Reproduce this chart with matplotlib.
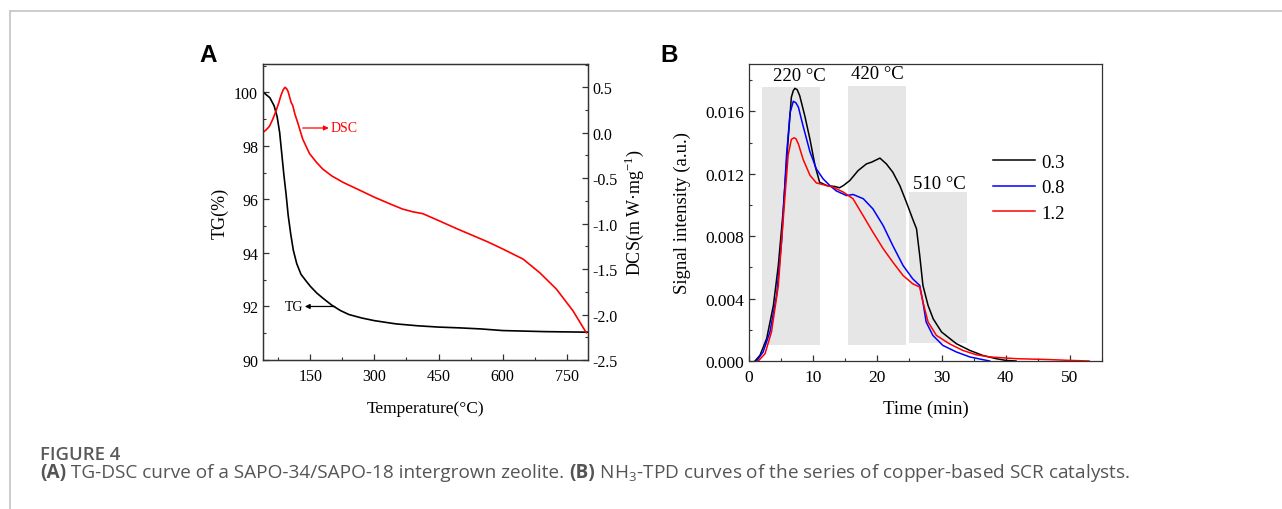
import matplotlib
matplotlib.use("Agg")
import matplotlib.pyplot as plt
from matplotlib.ticker import MultipleLocator
from matplotlib.patches import Rectangle

# ---- panel A: TG-DSC ----
tg_temp = [40, 55, 65, 72, 78, 83, 88, 93, 98, 104, 110, 118, 128, 140, 150, 165,
           180, 200, 220, 240, 270, 300, 350, 400, 450, 500, 550, 600, 650, 700,
           750, 800]
tg_val = [100, 99.8, 99.5, 99.1, 98.5, 97.7, 96.9, 96.2, 95.4, 94.7, 94.1, 93.6,
          93.2, 92.95, 92.75, 92.5, 92.3, 92.05, 91.85, 91.7, 91.57, 91.47, 91.35,
          91.28, 91.23, 91.2, 91.16, 91.1, 91.08, 91.06, 91.05, 91.04]

dsc_temp = [38, 46, 54, 62, 69.5, 76, 81, 86, 90.6, 95, 98, 104.7, 108.6, 114, 120,
            132, 148, 165, 179, 200, 226, 260, 300, 340, 366, 390, 413, 452, 490,
            530, 565, 601, 648, 687, 726, 765, 796]
dsc_val = [0.0, 0.03, 0.07, 0.15, 0.24, 0.33, 0.41, 0.47, 0.5, 0.48, 0.45, 0.335,
           0.30, 0.2, 0.115, -0.07, -0.23, -0.33, -0.40, -0.475, -0.545, -0.62,
           -0.71, -0.79, -0.84, -0.87, -0.89, -0.97, -1.05, -1.13, -1.2, -1.28,
           -1.39, -1.54, -1.72, -1.96, -2.2]

# ---- panel B: NH3-TPD ----
t_03 = [0.93, 1.7, 2.75, 3.8, 4.56, 5.3, 6.1, 6.6, 6.9, 7.15, 7.5, 7.9, 8.7, 9.5,
        10.3, 11.0, 12.1, 13.4, 14.1, 14.7, 15.7, 17.0, 18.3, 19.1, 20.4, 21.4, 22.4,
        23.5, 24.5, 25.5, 26.1, 26.6, 27.1, 27.9, 28.7, 30.0, 32.3, 34.4, 36.4, 38.5,
        40.0, 41.6]
s_03 = [0.0, 0.00036, 0.00143, 0.00356, 0.0061, 0.0095, 0.0142, 0.0169, 0.01732,
        0.01747, 0.01739, 0.0170, 0.0157, 0.0142, 0.0125, 0.01146, 0.01124, 0.01118,
        0.0111, 0.01124, 0.01156, 0.0122, 0.01263, 0.01274, 0.0130, 0.01263, 0.0121,
        0.01124, 0.0102, 0.0091, 0.00847, 0.00676, 0.00484, 0.00356, 0.0027, 0.00186,
        0.00111, 0.00068, 0.00036, 0.00015, 0.00004, 0.0]

t_08 = [1.2, 2.2, 3.26, 4.3, 5.1, 5.85, 6.4, 6.9, 7.3, 7.7, 8.4, 9.5, 10.5, 11.55,
        12.6, 13.6, 15.2, 16.2, 17.8, 19.3, 20.9, 22.4, 24.0, 25.5, 26.6, 27.1, 27.6,
        28.65, 30.2, 32.3, 34.4, 36.4, 37.5]
s_08 = [0.0, 0.00058, 0.00186, 0.0042, 0.0078, 0.0132, 0.0159, 0.01664, 0.01655,
        0.01626, 0.0151, 0.0134, 0.0123, 0.01167, 0.01124, 0.0109, 0.0106, 0.01067,
        0.0104, 0.00975, 0.00868, 0.0074, 0.00612, 0.00527, 0.00484, 0.00378, 0.0025,
        0.00164, 0.001, 0.00058, 0.00026, 0.00009, 0.0]

t_12 = [1.45, 2.5, 3.5, 4.56, 5.3, 6.1, 6.6, 7.0, 7.3, 7.7, 8.45, 9.5, 10.5, 11.55,
        13.1, 14.7, 16.2, 17.8, 19.3, 20.9, 22.4, 24.0, 25.5, 26.6, 27.1, 27.9, 29.2,
        31.2, 33.3, 35.4, 37.5, 41.6, 46.8, 49.9, 53.0]
s_12 = [0.0, 0.00047, 0.00186, 0.0048, 0.0089, 0.0132, 0.0142, 0.0143, 0.01425,
        0.0139, 0.0129, 0.0119, 0.01141, 0.0113, 0.01114, 0.01082, 0.0104, 0.0093,
        0.00826, 0.0072, 0.00634, 0.00548, 0.00495, 0.00474, 0.00378, 0.0025,
        0.00164, 0.00111, 0.00068, 0.0004, 0.00026, 0.00015, 0.00009, 0.00004, 0.0]

series_labels = ["0.3", "0.8", "1.2"]
series_colors = ["black", "#0000ff", "#ff0000"]

# desorption regions: (t start, t end, bottom, top, label, label x, label y)
regions = [(2.1, 11.05, 0.0010, 0.01754, "220 °C", 7.9, 0.0183),
           (15.4, 24.4, 0.00104, 0.0176, "420 °C", 20.0, 0.0184),
           (25.0, 34.0, 0.00113, 0.0108, "510 °C", 29.7, 0.0114)]

serif = "Liberation Serif"
plt.rcParams["font.family"] = [serif, "DejaVu Serif"]
plt.rcParams["mathtext.fontset"] = "custom"
plt.rcParams["mathtext.rm"] = serif
plt.rcParams["axes.linewidth"] = 0.9
plt.rcParams["axes.unicode_minus"] = False

fig = plt.figure(figsize=(12.82, 5.10), dpi=100)

# journal frame lines
fig.add_artist(plt.Line2D([9.5 / 1282, 1], [1 - 11.5 / 510] * 2, color="#c8c8c8", lw=1.3))
fig.add_artist(plt.Line2D([9.5 / 1282] * 2, [0, 1 - 11.5 / 510], color="#c8c8c8", lw=1.3))

spine_c = "#333333"


def style_axis(ax, size):
    ax.tick_params(which="both", direction="in", colors=spine_c, labelcolor="black",
                   labelsize=size)
    ax.tick_params(which="major", length=4.5, width=0.9)
    ax.tick_params(which="minor", length=2.5, width=0.8)
    ax.tick_params(axis="x", which="major", pad=6)
    for s in ax.spines.values():
        s.set_color(spine_c)


# ---- A ----
axA = fig.add_axes([263 / 1282, 1 - 361 / 510, 325 / 1282, 296 / 510])
axA.plot(tg_temp, tg_val, color="black", lw=1.2)
axA.set_xlim(39, 800)
axA.set_ylim(90, 101.06)
axA.xaxis.set_major_locator(MultipleLocator(150))
axA.xaxis.set_minor_locator(MultipleLocator(75))
axA.yaxis.set_major_locator(MultipleLocator(2))
axA.yaxis.set_minor_locator(MultipleLocator(1))
style_axis(axA, 11.5)
axA.set_xlabel("Temperature(°C)", fontsize=12.5, labelpad=11)
axA.set_ylabel("TG(%)", fontsize=13, labelpad=4)

axA2 = axA.twinx()
axA2.plot(dsc_temp, dsc_val, color="#ff0000", lw=1.2)
axA2.set_ylim(-2.5, 0.756)
axA2.yaxis.set_major_locator(MultipleLocator(0.5))
axA2.yaxis.set_minor_locator(MultipleLocator(0.25))
style_axis(axA2, 11.5)
axA2.set_ylabel("DCS(m W·mg$^{-1}$)", fontsize=13, labelpad=3)

axA2.annotate("", xy=(193, 0.052), xytext=(132, 0.052),
              arrowprops=dict(arrowstyle="-|>", color="#ff0000", lw=0.9,
                              mutation_scale=7, shrinkA=0, shrinkB=0))
axA2.text(196, 0.052, "DSC", color="#ff0000", fontsize=10, va="center", ha="left")
axA.annotate("", xy=(137, 92.0), xytext=(207, 92.0),
             arrowprops=dict(arrowstyle="-|>", color="black", lw=0.9,
                             mutation_scale=7, shrinkA=0, shrinkB=0))
axA.text(133, 92.0, "TG", color="black", fontsize=10, va="center", ha="right")

fig.text(199 / 1282, 1 - 56 / 510, "A", fontsize=17.5, fontweight="bold",
         family="Liberation Sans", va="center", ha="left")

# ---- B ----
axB = fig.add_axes([749 / 1282, 1 - 362 / 510, 353 / 1282, 297 / 510])
for x0, x1, y0, y1, lab, lx, ly in regions:
    axB.add_patch(Rectangle((x0, y0), x1 - x0, y1 - y0, facecolor="#e6e6e6",
                            edgecolor="none", zorder=0))
    axB.text(lx, ly, lab, fontsize=13.5, ha="center", va="center")
for t, s, lab, c in zip([t_03, t_08, t_12], [s_03, s_08, s_12], series_labels,
                        series_colors):
    axB.plot(t, s, color=c, lw=1.1, label=lab)
axB.set_xlim(0, 55)
axB.set_ylim(0, 0.01903)
axB.xaxis.set_major_locator(MultipleLocator(10))
axB.xaxis.set_minor_locator(MultipleLocator(5))
axB.yaxis.set_major_locator(MultipleLocator(0.004))
axB.yaxis.set_minor_locator(MultipleLocator(0.002))
axB.yaxis.set_major_formatter(plt.FuncFormatter(lambda v, p: f"{v:.3f}"))
style_axis(axB, 12.5)
axB.set_xlabel("Time (min)", fontsize=13.5, labelpad=10)
axB.set_ylabel("Signal intensity (a.u.)", fontsize=13.5, labelpad=10)
axB.legend(loc="upper left", bbox_to_anchor=(0.671, 0.724), frameon=False,
           fontsize=13.5, handlelength=2.24, handletextpad=0.3, labelspacing=0.45,
           borderaxespad=0)

fig.text(660 / 1282, 1 - 56 / 510, "B", fontsize=17.5, fontweight="bold",
         family="Liberation Sans", va="center", ha="left")

# ---- caption ----
cap_font = "Open Sans"
fig.text(40 / 1282, 1 - 455 / 510, "FIGURE 4", fontsize=13.3, fontweight="semibold",
         family=cap_font, color="#5a5a5a", va="center", ha="left")

pieces = [("(A)", "bold"), (" TG-DSC curve of a SAPO-34/SAPO-18 intergrown zeolite. ", "normal"),
          ("(B)", "bold"), (" NH$_\\mathregular{3}$-TPD curves of the series of copper-based SCR catalysts.", "normal")]
renderer = fig.canvas.get_renderer()
x = 40
for txt, w in pieces:
    tt = fig.text(x / 1282, 1 - 473 / 510, txt, fontsize=13.65, fontweight=w,
                  family=cap_font, color="#555555", va="center", ha="left")
    bb = tt.get_window_extent(renderer)
    x = bb.x1

fig.savefig("out.png", dpi=100)
